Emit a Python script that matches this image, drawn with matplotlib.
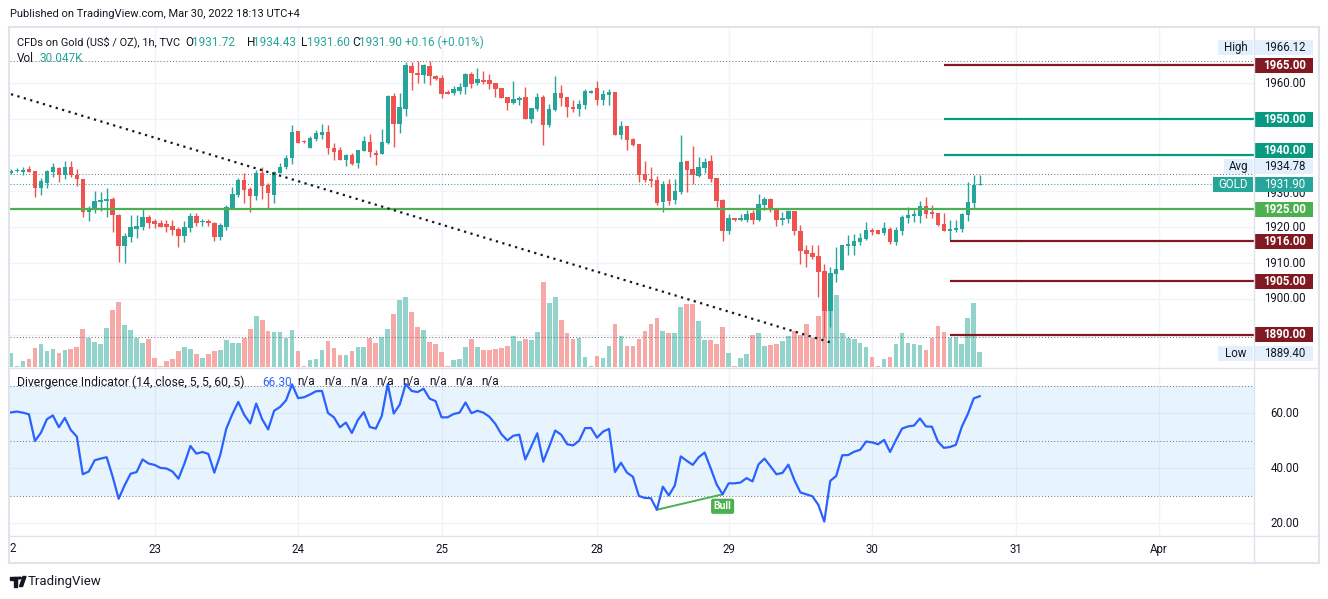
import matplotlib
matplotlib.use("Agg")
import matplotlib.pyplot as plt
import matplotlib.transforms as mtransforms
from matplotlib.patches import Rectangle, Polygon, Circle
from matplotlib.lines import Line2D
import numpy as np

plt.rcParams['font.family'] = ['Roboto', 'DejaVu Sans']

# TVC:GOLD, 1h bars, Mar 22 - Mar 30 2022 (bar index 0..162)
opens = [1934.9, 1935.5, 1935.2, 1936.1, 1935.5, 1930.9, 1932.3, 1935.3, 1936.5, 1934.5,
         1936.7, 1934.5, 1933.3, 1924.3, 1924.9, 1927.0, 1927.3, 1927.8, 1923.4, 1914.8,
         1917.3, 1919.5, 1920.1, 1922.8, 1921.7, 1921.2, 1920.7, 1920.3, 1919.5, 1917.6,
         1919.8, 1923.1, 1921.4, 1921.7, 1921.2, 1917.3, 1920.1, 1925.4, 1928.9, 1933.1,
         1930.6, 1928.6, 1934.9, 1931.6, 1929.0, 1935.1, 1936.6, 1939.3, 1946.7, 1944.0,
         1942.0, 1944.5, 1945.6, 1946.4, 1942.0, 1941.4, 1938.6, 1939.9, 1937.9, 1941.2,
         1943.6, 1940.6, 1940.4, 1943.3, 1956.4, 1948.7, 1952.9, 1964.7, 1962.8, 1962.2,
         1964.7, 1962.0, 1961.4, 1957.5, 1957.2, 1957.8, 1959.0, 1962.5, 1960.0, 1960.8,
         1960.8, 1960.0, 1958.6, 1956.2, 1954.5, 1955.3, 1956.1, 1950.0, 1952.8, 1956.1,
         1948.4, 1952.6, 1957.2, 1956.1, 1953.3, 1952.8, 1953.9, 1957.3, 1958.6, 1955.3,
         1956.7, 1957.5, 1945.6, 1948.1, 1944.4, 1943.0, 1934.6, 1933.4, 1933.1, 1926.9,
         1931.9, 1927.5, 1929.8, 1938.3, 1936.1, 1934.2, 1936.4, 1938.3, 1933.6, 1927.5,
         1918.9, 1922.4, 1922.0, 1921.9, 1923.9, 1921.9, 1926.1, 1927.9, 1925.0, 1921.9,
         1922.2, 1924.4, 1918.9, 1913.6, 1912.8, 1911.9, 1907.8, 1896.7, 1907.0, 1908.0,
         1914.7, 1914.7, 1915.8, 1916.7, 1919.2, 1919.2, 1918.3, 1919.4, 1915.8, 1918.9,
         1922.5, 1923.1, 1923.1, 1925.8, 1924.2, 1923.9, 1920.8, 1918.9, 1919.2, 1919.4,
         1923.3, 1926.7, 1931.72]
closes = [1935.6, 1935.8, 1935.8, 1935.4, 1930.9, 1932.8, 1935.5, 1936.7, 1934.5, 1936.7,
          1934.5, 1933.3, 1924.3, 1925.1, 1927.2, 1927.5, 1927.9, 1923.2, 1914.8, 1917.5,
          1919.9, 1920.4, 1922.8, 1921.2, 1920.9, 1920.1, 1920.1, 1919.3, 1917.6, 1920.0,
          1923.1, 1921.2, 1921.7, 1921.2, 1917.3, 1920.6, 1925.6, 1929.2, 1933.1, 1930.3,
          1928.6, 1934.9, 1931.4, 1929.4, 1935.3, 1936.7, 1939.2, 1946.5, 1943.2, 1943.6,
          1944.7, 1946.0, 1946.4, 1941.9, 1940.9, 1938.6, 1939.9, 1937.5, 1941.4, 1943.9,
          1940.7, 1940.0, 1943.6, 1956.4, 1948.7, 1953.3, 1965.0, 1962.8, 1962.2, 1965.0,
          1962.0, 1961.2, 1957.0, 1957.0, 1958.3, 1958.9, 1962.5, 1959.8, 1961.1, 1960.3,
          1959.8, 1958.4, 1955.9, 1954.5, 1955.6, 1955.8, 1950.0, 1953.1, 1956.2, 1948.4,
          1952.8, 1957.2, 1955.9, 1953.2, 1952.8, 1954.2, 1957.8, 1957.8, 1955.3, 1956.9,
          1957.5, 1945.6, 1948.1, 1944.3, 1942.8, 1934.5, 1933.1, 1932.8, 1926.8, 1931.9,
          1927.3, 1930.0, 1938.1, 1935.8, 1934.4, 1936.7, 1938.1, 1933.3, 1927.2, 1918.9,
          1922.5, 1922.0, 1922.5, 1923.6, 1921.9, 1926.4, 1927.9, 1924.7, 1921.9, 1922.5,
          1924.4, 1918.9, 1913.3, 1912.5, 1911.7, 1907.5, 1896.7, 1907.2, 1908.3, 1915.0,
          1915.3, 1916.1, 1917.0, 1919.2, 1918.6, 1918.1, 1919.7, 1915.8, 1919.2, 1922.8,
          1923.3, 1923.6, 1925.8, 1923.6, 1923.6, 1920.6, 1918.9, 1919.4, 1919.7, 1923.6,
          1926.9, 1931.8, 1931.90]
highs = [1936.0, 1936.3, 1936.6, 1936.9, 1935.5, 1933.5, 1935.8, 1937.8, 1936.7, 1938.3,
         1938.3, 1936.1, 1933.3, 1925.8, 1930.0, 1929.8, 1930.8, 1928.2, 1923.6, 1918.2,
         1923.3, 1923.3, 1924.9, 1923.3, 1922.3, 1921.9, 1921.9, 1921.9, 1920.1, 1921.7,
         1923.8, 1923.8, 1922.3, 1922.2, 1921.3, 1921.0, 1926.1, 1931.2, 1933.5, 1934.9,
         1931.2, 1935.8, 1936.8, 1932.3, 1935.6, 1937.7, 1940.0, 1948.3, 1946.7, 1944.2,
         1945.3, 1946.9, 1948.6, 1948.3, 1943.2, 1942.1, 1940.3, 1940.5, 1941.4, 1945.3,
         1945.8, 1941.4, 1947.2, 1956.7, 1957.3, 1957.1, 1965.8, 1965.8, 1966.1, 1965.3,
         1966.12, 1962.2, 1962.2, 1958.1, 1959.2, 1960.0, 1962.8, 1963.1, 1964.2, 1963.3,
         1962.5, 1960.0, 1958.6, 1956.2, 1960.6, 1956.4, 1958.9, 1953.1, 1957.2, 1956.7,
         1954.2, 1961.9, 1959.4, 1956.1, 1955.3, 1955.3, 1958.3, 1958.0, 1960.6, 1958.1,
         1958.3, 1957.5, 1949.4, 1948.1, 1944.8, 1943.0, 1938.3, 1936.7, 1934.2, 1932.8,
         1933.3, 1933.3, 1945.6, 1938.3, 1942.5, 1939.4, 1939.2, 1940.0, 1933.6, 1927.8,
         1923.6, 1922.6, 1923.6, 1924.7, 1924.7, 1929.2, 1928.3, 1928.1, 1925.0, 1924.2,
         1924.7, 1924.4, 1920.6, 1915.0, 1915.0, 1915.0, 1909.7, 1908.9, 1914.4, 1915.0,
         1917.8, 1918.1, 1918.3, 1921.4, 1919.7, 1919.2, 1921.4, 1919.9, 1920.0, 1923.3,
         1925.6, 1924.7, 1927.2, 1928.3, 1926.1, 1923.9, 1923.9, 1921.9, 1921.9, 1923.9,
         1932.5, 1934.5, 1934.43]
lows = [1934.6, 1935.2, 1934.5, 1935.2, 1928.4, 1929.0, 1930.9, 1933.8, 1932.6, 1933.4,
        1933.9, 1931.5, 1922.7, 1921.8, 1924.0, 1924.5, 1922.9, 1918.6, 1910.4, 1910.1,
        1915.9, 1917.0, 1919.3, 1919.8, 1919.6, 1920.1, 1918.6, 1917.8, 1914.4, 1915.9,
        1918.6, 1920.4, 1920.4, 1920.4, 1916.1, 1916.4, 1919.2, 1925.4, 1928.4, 1926.8,
        1924.3, 1927.5, 1927.9, 1925.2, 1926.8, 1935.1, 1936.1, 1937.4, 1943.2, 1943.2,
        1942.0, 1943.9, 1944.5, 1940.4, 1938.6, 1938.6, 1936.9, 1937.3, 1936.5, 1941.2,
        1939.5, 1937.2, 1940.4, 1943.0, 1942.3, 1946.0, 1950.7, 1958.1, 1960.1, 1960.1,
        1959.4, 1960.8, 1955.7, 1956.9, 1956.7, 1956.9, 1956.9, 1958.7, 1959.5, 1959.7,
        1958.4, 1956.1, 1955.9, 1952.5, 1954.2, 1953.9, 1950.0, 1948.9, 1952.2, 1942.8,
        1947.9, 1952.2, 1953.6, 1950.6, 1952.0, 1950.8, 1952.8, 1957.1, 1953.9, 1953.9,
        1953.9, 1945.6, 1944.4, 1941.4, 1942.4, 1932.5, 1932.5, 1931.1, 1926.1, 1924.2,
        1926.1, 1926.4, 1929.2, 1929.7, 1931.9, 1933.9, 1935.0, 1932.5, 1925.6, 1916.1,
        1918.1, 1921.8, 1921.8, 1921.4, 1920.8, 1921.7, 1924.7, 1924.2, 1920.3, 1920.6,
        1921.1, 1917.8, 1909.7, 1908.9, 1911.1, 1900.6, 1889.4, 1892.2, 1904.7, 1908.0,
        1912.2, 1912.2, 1915.0, 1916.4, 1917.8, 1918.1, 1917.8, 1915.3, 1915.0, 1917.8,
        1921.1, 1921.4, 1921.1, 1922.5, 1922.5, 1920.3, 1918.9, 1916.4, 1918.6, 1918.6,
        1921.7, 1925.0, 1931.60]
# volume, thousands
volumes = [28, 3, 12, 16, 38, 46, 32, 36, 28, 34,
           36, 40, 76, 58, 50, 46, 78, 114, 130, 84,
           74, 58, 48, 56, 18, 3, 12, 16, 32, 40,
           36, 26, 18, 26, 32, 34, 54, 48, 48, 58,
           76, 102, 94, 72, 70, 70, 58, 74, 32, 2,
           14, 16, 34, 52, 38, 24, 24, 32, 40, 40,
           58, 48, 60, 76, 106, 134, 140, 110, 80, 74,
           50, 46, 30, 2, 14, 16, 40, 56, 40, 34,
           34, 36, 38, 42, 62, 52, 56, 54, 70, 170,
           128, 140, 94, 68, 56, 58, 20, 2, 22, 18,
           42, 86, 62, 42, 42, 56, 72, 86, 98, 72,
           68, 68, 120, 126, 126, 92, 54, 54, 46, 80,
           28, 2, 18, 26, 64, 68, 42, 44, 46, 52,
           62, 72, 64, 86, 58, 102, 112, 112, 144, 68,
           58, 56, 48, 40, 20, 2, 16, 20, 46, 68,
           48, 46, 44, 34, 58, 82, 70, 58, 60, 46,
           98, 128, 30.047]
# Divergence Indicator (RSI 14)
div_ind = [60.4, 60.7, 60.3, 59.7, 50.0, 53.0, 57.9, 59.3, 55.0, 58.4,
           54.0, 51.6, 37.9, 38.9, 43.0, 43.6, 44.1, 37.0, 29.0, 33.9,
           38.1, 38.7, 43.3, 41.8, 41.3, 40.2, 40.0, 38.9, 36.3, 41.8,
           48.2, 45.4, 46.0, 45.3, 38.5, 45.0, 54.5, 59.7, 64.2, 59.5,
           56.4, 63.6, 57.9, 54.2, 61.0, 62.4, 64.8, 70.6, 65.6, 65.9,
           66.9, 68.1, 68.2, 60.2, 58.6, 55.0, 56.7, 52.9, 57.6, 60.5,
           55.1, 54.5, 59.1, 70.7, 60.0, 63.2, 70.7, 68.2, 67.8, 69.0,
           65.4, 64.5, 58.6, 58.6, 59.8, 60.3, 64.0, 60.1, 61.0, 60.3,
           58.8, 56.2, 52.5, 50.2, 51.9, 52.3, 43.3, 48.0, 52.8, 42.5,
           48.0, 53.8, 52.3, 48.8, 48.4, 50.1, 54.7, 54.7, 51.2, 53.4,
           54.4, 38.7, 42.1, 38.5, 37.0, 30.0, 29.3, 29.2, 25.0, 33.4,
           30.2, 33.8, 44.4, 42.8, 41.3, 44.1, 45.8, 40.1, 34.2, 30.6,
           34.6, 34.6, 34.9, 36.5, 35.3, 41.5, 43.6, 40.8, 37.9, 38.4,
           41.4, 35.8, 31.3, 30.6, 29.9, 26.8, 20.7, 35.5, 37.3, 44.8,
           44.9, 46.1, 46.8, 49.8, 49.5, 48.8, 50.4, 46.0, 50.4, 54.5,
           55.3, 55.6, 58.2, 55.3, 55.2, 49.8, 47.5, 47.8, 48.6, 55.2,
           59.8, 65.5, 66.30]

day_ticks = [24, 48, 72, 98, 120, 144, 168, 192]
day_labels = ['23', '24', '25', '28', '29', '30', '31', 'Apr']

# drawn horizontal levels
level_prices = [1965, 1950, 1940, 1925, 1916, 1905, 1890]
level_colors = ['#801922', '#089981', '#089981', '#4caf50', '#801922', '#801922', '#801922']
level_start = [156, 156, 156, -1, 157, 157, 157]

# dotted trend line drawing
trend_x = [0, 137.3]
trend_y = [1956.9, 1887.8]

high_price, avg_price, last_price, low_price = 1966.12, 1934.78, 1931.90, 1889.40
bull_from, bull_to = 108, 119

UP, DOWN = '#26a69a', '#ef5350'
UP_VOL, DOWN_VOL = '#92d3cc', '#f7a9a7'
TXT, GRID, FRAME = '#131722', '#f0f3fa', '#e0e3eb'
LIGHT = '#e3effd'

W, H = 1328, 599
fig = plt.figure(figsize=(W / 100, H / 100), dpi=100)


def fx(px):
    return px / W


def fy(py):
    return 1 - py / H


main_rect = [fx(10), fy(367), fx(1254) - fx(10), (367 - 27) / H]
ind_rect = [fx(10), fy(536), fx(1254) - fx(10), (536 - 369) / H]

ax_vol = fig.add_axes(main_rect)
ax = fig.add_axes(main_rect, sharex=ax_vol)
ax_ind = fig.add_axes(ind_rect, sharex=ax_vol)
ax.patch.set_visible(False)
for a in (ax_vol, ax, ax_ind):
    for s in a.spines.values():
        s.set_visible(False)
    a.tick_params(left=False, labelleft=False, bottom=False, labelbottom=False)

ax_vol.set_xlim(-0.17, 207.86)
p_lo, p_hi = 1881.11, 1975.56
ax.set_ylim(p_lo, p_hi)
ax_vol.set_ylim(0, 680)
ax_ind.set_ylim(15.45, 76.18)
usd_per_px = (p_hi - p_lo) / 340

x = np.arange(len(closes))
o = np.array(opens)
c = np.array(closes)
up = c >= o
cols = np.where(up, UP, DOWN)

# grid (under the volume)
grid_tr = mtransforms.blended_transform_factory(ax_vol.transAxes, ax.transData)
for p in range(1890, 1961, 10):
    ax_vol.plot([0, 1], [p, p], transform=grid_tr, color=GRID, lw=1, zorder=0)
for d in day_ticks:
    ax_vol.axvline(d, color=GRID, lw=1, zorder=0)
    ax_ind.axvline(d, color=GRID, lw=1, zorder=0)

ax_vol.bar(x, volumes, width=0.78, color=np.where(up, UP_VOL, DOWN_VOL), zorder=2)

# candles
ax.vlines(x, lows, highs, colors=cols, lw=1, zorder=3)
ax.bar(x, np.maximum(np.abs(c - o), 0.3), bottom=np.minimum(o, c), width=0.75,
       color=cols, zorder=4)

dots = (0, (1, 2))
ax.axhline(high_price, color='#787b86', lw=0.75, ls=dots, zorder=2)
ax.axhline(avg_price, color='#787b86', lw=0.75, ls=dots, zorder=2)
ax.axhline(low_price, color='#787b86', lw=0.75, ls=dots, zorder=2)
ax.axhline(last_price, color=UP, lw=0.75, ls=dots, zorder=2)

for p, col, s in zip(level_prices, level_colors, level_start):
    ax.hlines(p, s, 210, color=col, lw=1.6, zorder=5)

ax.plot(trend_x, trend_y, color=TXT, lw=1.6, ls=dots, zorder=6)

# indicator pane
for v in (20, 40, 60):
    ax_ind.axhline(v, color=GRID, lw=1, zorder=0)
ax_ind.axhspan(30, 70, color='#2196f3', alpha=0.1, lw=0, zorder=1)
for v in (30, 50, 70):
    ax_ind.axhline(v, color='#787b86', lw=0.75, ls=dots, zorder=2)
ax_ind.plot(x, div_ind, color='#2962ff', lw=1.6, zorder=4)
ax_ind.plot([bull_from, bull_to], [div_ind[bull_from], div_ind[bull_to]],
            color='#4caf50', lw=1.4, zorder=3)
ax_ind.annotate('Bull', xy=(bull_to, div_ind[bull_to]), xytext=(0, -5),
                textcoords='offset points', ha='center', va='top', color='white',
                fontsize=7.5, fontweight='bold', zorder=6,
                bbox=dict(boxstyle='round,pad=0.25,rounding_size=0.2', fc='#4caf50', ec='none'))

ax_ind.set_xticks(day_ticks, day_labels)
ax_ind.tick_params(labelbottom=True, length=0, pad=5, labelsize=8.3, labelcolor=TXT)
fig.text(fx(9.5), fy(549), '2', fontsize=8.3, color=TXT, ha='left', va='center')


# right price scale
def ytrans(axis, dy_px=0):
    base = mtransforms.blended_transform_factory(fig.transFigure, axis.transData)
    return base + mtransforms.ScaledTranslation(0, -dy_px / 100, fig.dpi_scale_trans)


def tag(price, text, bg, fg, dy=0, bold=True, x0=1254, x1=1313, z=8):
    tr = ytrans(ax, dy)
    h = 15 * usd_per_px
    ax.add_patch(Rectangle((fx(x0), price - h / 2), fx(x1) - fx(x0), h, transform=tr,
                           fc=bg, ec='none', clip_on=False, zorder=z))
    ax.text(fx((x0 + x1) / 2 + (1 if x0 >= 1254 else 0)), price, text, transform=tr,
            ha='center', va='center', fontsize=8.3, color=fg, clip_on=False, zorder=z + 1,
            fontweight='bold' if bold else 'normal')


for p in (1960, 1920, 1910, 1900):
    ax.text(fx(1285), p, '%.2f' % p, transform=ytrans(ax), ha='center', va='center',
            fontsize=8.3, color=TXT, clip_on=False)
# mostly hidden behind the GOLD tag, as on the original
ax.text(fx(1285), 1930, '1930.00', transform=ytrans(ax, 2), ha='center', va='center',
        fontsize=8.3, color=TXT, clip_on=False, zorder=5)

tag(high_price, '1966.12', LIGHT, TXT, dy=-13.7, bold=False)
tag(high_price, 'High', LIGHT, TXT, dy=-13.7, bold=False, x0=1218, x1=1253)
tag(1965, '1965.00', '#801922', 'white')
tag(1950, '1950.00', '#089981', 'white')
tag(1940, '1940.00', '#089981', 'white', dy=-5)
tag(avg_price, '1934.78', LIGHT, TXT, dy=-7, bold=False)
tag(avg_price, 'Avg', LIGHT, TXT, dy=-7, bold=False, x0=1224, x1=1253)
tag(last_price, '1931.90', UP, 'white', bold=False)
tag(last_price, 'GOLD', UP, 'white', bold=False, x0=1213, x1=1253)
tag(1925, '1925.00', '#4caf50', 'white')
tag(1916, '1916.00', '#801922', 'white')
tag(1905, '1905.00', '#801922', 'white')
tag(1890, '1890.00', '#801922', 'white')
tag(low_price, '1889.40', LIGHT, TXT, dy=16, bold=False)
tag(low_price, 'Low', LIGHT, TXT, dy=16, bold=False, x0=1218, x1=1253)

for v in (60, 40, 20):
    ax_ind.text(fx(1285), v, '%.2f' % v, transform=ytrans(ax_ind), ha='center',
                va='center', fontsize=8.3, color=TXT, clip_on=False)


# header texts, each piece at its own place
def text_at(x_px, y_px, s, color=TXT, size=8.5):
    fig.text(fx(x_px), fy(y_px), s, color=color, fontsize=size, va='center', ha='left')


text_at(10, 14, 'Published on TradingView.com, Mar 30, 2022 18:13 UTC+4', size=8)

text_at(17, 42, 'CFDs on Gold (US$ / OZ), 1h, TVC', size=7.9)
text_at(185.5, 42, 'O')
text_at(192, 42, '%.2f' % opens[-1], UP)
text_at(246.5, 42, 'H')
text_at(252.5, 42, '%.2f' % highs[-1], UP)
text_at(301, 42, 'L')
text_at(306.5, 42, '%.2f' % lows[-1], UP)
text_at(352.5, 42, 'C')
text_at(359, 42, '%.2f' % closes[-1], UP)
text_at(405, 42, '+0.16 (+0.01%)', UP)

text_at(17, 58, 'Vol')
text_at(39, 58, '%.3fK' % volumes[-1], UP)

text_at(17, 382, 'Divergence Indicator (14, close, 5, 5, 60, 5)', size=8.8)
text_at(262, 382, '%.2f' % div_ind[-1], '#2962ff')
for k in range(8):
    text_at(297.5 + 26.3 * k, 382, 'n/a')


# frame
def fline(x0, y0, x1, y1, lw=1):
    fig.add_artist(Line2D([fx(x0), fx(x1)], [fy(y0), fy(y1)], color=FRAME, lw=lw))


fline(9, 26.5, 1319, 26.5, 1.5)
fline(9, 563, 1319, 563, 1.5)
fline(9, 26.5, 9, 563, 1.5)
fline(1318.5, 26.5, 1318.5, 563, 1.5)
fline(1254, 27, 1254, 563)
fline(10, 368, 1318, 368)
fline(10, 536, 1318, 536)

# TradingView logo
fig.add_artist(Rectangle((fx(10), fy(580)), fx(7), 3.5 / H, color=TXT, transform=fig.transFigure))
fig.add_artist(Rectangle((fx(13.5), fy(586.5)), fx(3.5), 10 / H, color=TXT, transform=fig.transFigure))
fig.add_artist(Circle((fx(19.5), fy(578)), fx(1.8), color=TXT, transform=fig.transFigure))
fig.add_artist(Polygon([(fx(19.5), fy(586.5)), (fx(23), fy(576.5)), (fx(26), fy(576.5)),
                        (fx(22.5), fy(586.5))], color=TXT, transform=fig.transFigure))
fig.text(fx(28), fy(581), 'TradingView', fontsize=9.5, color=TXT, va='center')

fig.savefig('out.png', dpi=100)
